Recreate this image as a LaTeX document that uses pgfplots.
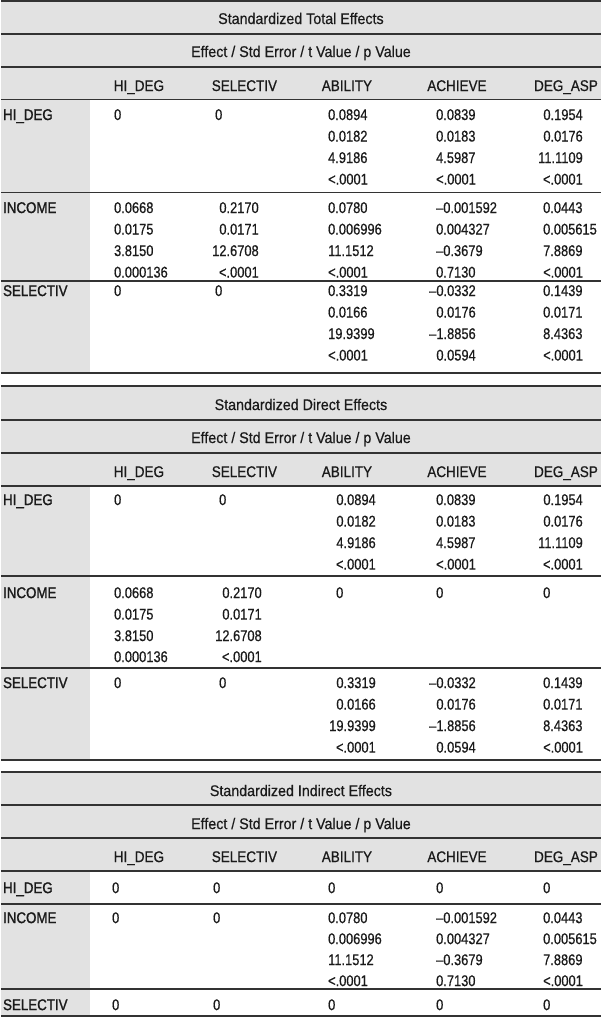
\documentclass[border=0pt]{standalone}
\usepackage{fontspec}
\setmainfont{Liberation Sans}
\usepackage{pgfplots}
\usepackage{pgfplotstable}
\pgfplotsset{compat=1.18}
\newfontfamily\numfont{Liberation Sans}[FakeStretch=0.83,FakeBold=0.5]
\newfontfamily\capfont{Liberation Sans}[FakeStretch=0.87,FakeBold=0.7]
\newfontfamily\ttlfont{Liberation Sans}[FakeStretch=0.92,FakeBold=0.5]
\newfontfamily\rowfont{Liberation Sans}[FakeStretch=0.86,FakeBold=1.4]
\definecolor{bandgray}{HTML}{E2E2E2}
\definecolor{rulegray}{HTML}{333333}
\definecolor{txt}{HTML}{1A1A1A}

% Block 1: Standardized Total Effects
\pgfplotstableread{
x y t
113 120 0
214 120 0
327 120 0.0894
327 141.5 0.0182
327 163 4.9186
327 184.5 <.0001
435 120 0.0839
435 141.5 0.0183
435 163 4.5987
435 184.5 <.0001
113 213 0.0668
113 234.5 0.0175
113 256 3.8150
113 277.5 0.000136
327 213 0.0780
327 234.5 0.006996
327 256 11.1512
327 277.5 <.0001
435 213 –0.001592
435 234.5 0.004327
435 256 –0.3679
435 277.5 0.7130
542 213 0.0443
542 234.5 0.005615
542 256 7.8869
542 277.5 <.0001
113 296 0
214 296 0
327 296 0.3319
327 317.5 0.0166
327 339 19.9399
327 360.5 <.0001
542 296 0.1439
542 317.5 0.0171
542 339 8.4363
542 360.5 <.0001
}\totW
\pgfplotstableread{
x y t
582 120 0.1954
582 141.5 0.0176
582 163 11.1109
582 184.5 <.0001
258 213 0.2170
258 234.5 0.0171
258 256 12.6708
258 277.5 <.0001
475 296 –0.0332
475 317.5 0.0176
475 339 –1.8856
475 360.5 0.0594
}\totE

% Block 2: Standardized Direct Effects
\pgfplotstableread{
x y t
113 505 0
218 505 0
435 505 0.0839
435 526.5 0.0183
435 548 4.5987
435 569.5 <.0001
113 598 0.0668
113 619.5 0.0175
113 641 3.8150
113 662 0.000136
335 598 0
435 598 0
542 598 0
113 688 0
218 688 0
542 688 0.1439
542 709.5 0.0171
542 731 8.4363
542 752.5 <.0001
}\dirW
\pgfplotstableread{
x y t
375 505 0.0894
375 526.5 0.0182
375 548 4.9186
375 569.5 <.0001
582 505 0.1954
582 526.5 0.0176
582 548 11.1109
582 569.5 <.0001
261 598 0.2170
261 619.5 0.0171
261 641 12.6708
261 662 <.0001
375 688 0.3319
375 709.5 0.0166
375 731 19.9399
375 752.5 <.0001
475 688 –0.0332
475 709.5 0.0176
475 731 –1.8856
475 752.5 0.0594
}\dirE

% Block 3: Standardized Indirect Effects
\pgfplotstableread{
x y t
111 893 0
212 893 0
327 893 0
435 893 0
542 893 0
111 923 0
212 923 0
327 923 0.0780
327 944 0.006996
327 965 11.1512
327 986 <.0001
435 923 –0.001592
435 944 0.004327
435 965 –0.3679
435 986 0.7130
542 923 0.0443
542 944 0.005615
542 965 7.8869
542 986 <.0001
111 1010 0
212 1010 0
327 1010 0
435 1010 0
542 1010 0
}\indW

\newcommand\cellfont{\numfont\fontsize{15.5}{18}\selectfont}
\newcommand\hfont{\capfont\fontsize{15.5}{18}\selectfont}
\newcommand\tfont{\ttlfont\fontsize{15.5}{18}\selectfont}
\newcommand\rfont{\rowfont\fontsize{15.5}{18}\selectfont}

\pgfplotsset{
  cellW/.style={draw=none, mark=none, forget plot, nodes near coords,
    point meta=explicit symbolic,
    nodes near coords style={anchor=base west, inner sep=0pt, text=txt, font=\cellfont}},
  cellE/.style={draw=none, mark=none, forget plot, nodes near coords,
    point meta=explicit symbolic,
    nodes near coords style={anchor=base east, inner sep=0pt, text=txt, font=\cellfont}},
}
\tikzset{
  ttl/.style={anchor=base, inner sep=0pt, text=txt, font=\tfont},
  hdr/.style={anchor=base, inner sep=0pt, text=txt, font=\hfont},
  rlab/.style={anchor=base west, inner sep=0pt, text=txt, font=\rfont},
  rule/.style={rulegray, line width=1.8pt},
}

\begin{document}
\begin{tikzpicture}
\begin{axis}[
  width=600pt, height=1017pt, scale only axis,
  xmin=0, xmax=600, ymin=0, ymax=1017, y dir=reverse,
  hide axis, clip=false,
]
% ---- backgrounds
\fill[bandgray] (axis cs:0,0) rectangle (axis cs:600,100);
\fill[bandgray] (axis cs:0,100) rectangle (axis cs:89,373);
\fill[bandgray] (axis cs:0,386) rectangle (axis cs:600,486);
\fill[bandgray] (axis cs:0,486) rectangle (axis cs:89,760);
\fill[bandgray] (axis cs:0,772) rectangle (axis cs:600,871);
\fill[bandgray] (axis cs:0,871) rectangle (axis cs:89,1016);
% ---- rules
\draw[rule] (axis cs:0,0.9) -- (axis cs:600,0.9);
\draw[rule] (axis cs:0,34) -- (axis cs:600,34);
\draw[rule] (axis cs:0,67) -- (axis cs:600,67);
\draw[rule] (axis cs:0,99.5) -- (axis cs:600,99.5);
\draw[rule] (axis cs:0,192.5) -- (axis cs:600,192.5);
\draw[rule] (axis cs:0,281) -- (axis cs:600,281);
\draw[rule] (axis cs:0,373) -- (axis cs:600,373);
\draw[rule] (axis cs:0,386) -- (axis cs:600,386);
\draw[rule] (axis cs:0,420) -- (axis cs:600,420);
\draw[rule] (axis cs:0,453) -- (axis cs:600,453);
\draw[rule] (axis cs:0,486) -- (axis cs:600,486);
\draw[rule] (axis cs:0,576) -- (axis cs:600,576);
\draw[rule] (axis cs:0,668) -- (axis cs:600,668);
\draw[rule] (axis cs:0,760) -- (axis cs:600,760);
\draw[rule] (axis cs:0,772) -- (axis cs:600,772);
\draw[rule] (axis cs:0,805) -- (axis cs:600,805);
\draw[rule] (axis cs:0,838) -- (axis cs:600,838);
\draw[rule] (axis cs:0,871) -- (axis cs:600,871);
\draw[rule] (axis cs:0,904) -- (axis cs:600,904);
\draw[rule] (axis cs:0,989) -- (axis cs:600,989);
\draw[rule] (axis cs:0,1016) -- (axis cs:600,1016);
% ---- titles
\node[ttl] at (axis cs:300,24) {Standardized Total Effects};
\node[ttl] at (axis cs:300,57) {Effect / Std Error / t Value / p Value};
\node[ttl] at (axis cs:300,410) {Standardized Direct Effects};
\node[ttl] at (axis cs:300,443) {Effect / Std Error / t Value / p Value};
\node[ttl] at (axis cs:300,796) {Standardized Indirect Effects};
\node[ttl] at (axis cs:300,829) {Effect / Std Error / t Value / p Value};
% ---- column headers
\node[hdr] at (axis cs:138,91) {HI\_DEG};
\node[hdr] at (axis cs:243.5,91) {SELECTIV};
\node[hdr] at (axis cs:346,91) {ABILITY};
\node[hdr] at (axis cs:456,91) {ACHIEVE};
\node[hdr] at (axis cs:565,91) {DEG\_ASP};
\node[hdr] at (axis cs:138,477) {HI\_DEG};
\node[hdr] at (axis cs:243.5,477) {SELECTIV};
\node[hdr] at (axis cs:346,477) {ABILITY};
\node[hdr] at (axis cs:456,477) {ACHIEVE};
\node[hdr] at (axis cs:565,477) {DEG\_ASP};
\node[hdr] at (axis cs:138,862) {HI\_DEG};
\node[hdr] at (axis cs:243.5,862) {SELECTIV};
\node[hdr] at (axis cs:346,862) {ABILITY};
\node[hdr] at (axis cs:456,862) {ACHIEVE};
\node[hdr] at (axis cs:565,862) {DEG\_ASP};
% ---- row labels
\node[rlab] at (axis cs:2,120) {HI\_DEG};
\node[rlab] at (axis cs:2,213) {INCOME};
\node[rlab] at (axis cs:2,296) {SELECTIV};
\node[rlab] at (axis cs:2,505) {HI\_DEG};
\node[rlab] at (axis cs:2,598) {INCOME};
\node[rlab] at (axis cs:2,688) {SELECTIV};
\node[rlab] at (axis cs:2,893) {HI\_DEG};
\node[rlab] at (axis cs:2,923) {INCOME};
\node[rlab] at (axis cs:2,1010) {SELECTIV};
% ---- cell values
\addplot[cellW] table[x=x, y=y, meta=t] {\totW};
\addplot[cellE] table[x=x, y=y, meta=t] {\totE};
\addplot[cellW] table[x=x, y=y, meta=t] {\dirW};
\addplot[cellE] table[x=x, y=y, meta=t] {\dirE};
\addplot[cellW] table[x=x, y=y, meta=t] {\indW};
\end{axis}
\end{tikzpicture}
\end{document}
